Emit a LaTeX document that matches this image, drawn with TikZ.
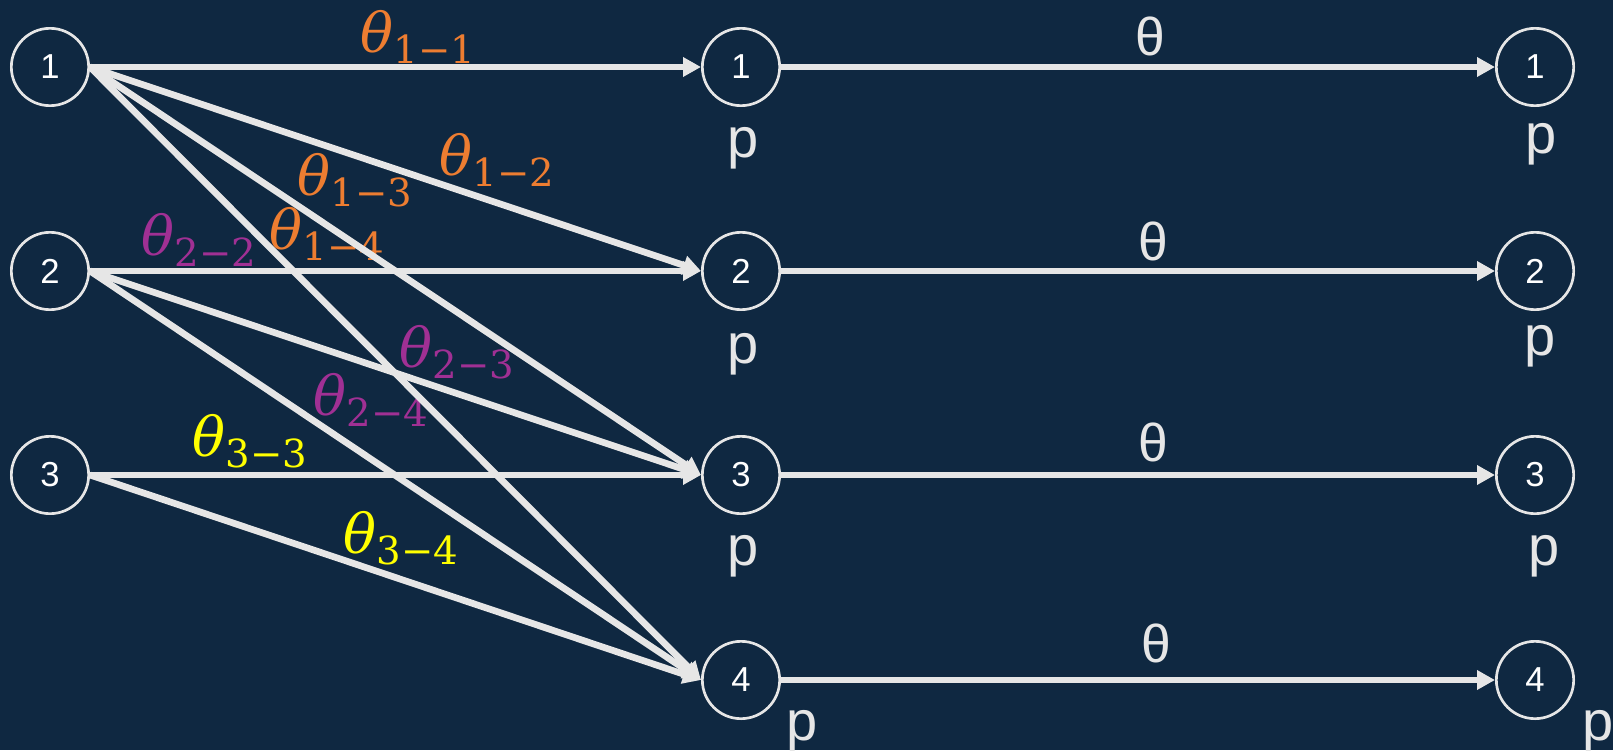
\documentclass[tikz,border=0pt]{standalone}
\usepackage{fontspec}
\setmainfont{Liberation Sans}
\newfontfamily\wfont{DejaVu Serif}
\usetikzlibrary{arrows.meta}

\definecolor{bgnavy}{HTML}{0F2841}
\definecolor{edgegray}{HTML}{E6E6E6}
\definecolor{laborange}{HTML}{ED7D31}
\definecolor{labpurple}{HTML}{A03094}
\definecolor{labyellow}{HTML}{FFFF00}

% weight label: italic theta with an upright lowered index
\newcommand{\wgt}[2]{{\wfont\fontsize{41}{41}\selectfont\itshape θ}%
  \raisebox{-8pt}{\wfont\fontsize{29}{29}\selectfont #1−#2}}

\begin{document}
\begin{tikzpicture}[x=0.75pt,y=-0.75pt,
  state/.style={circle, draw=edgegray, line width=2pt, inner sep=0pt,
    minimum size=58pt, text=white, font=\fontsize{26}{26}\selectfont},
  flow/.style={draw=edgegray, line width=5pt,
    -{Triangle[length=13.5pt,width=14pt]}},
  plabel/.style={anchor=base, inner sep=0pt, text=edgegray,
    font=\fontsize{42}{42}\selectfont},
  tlabel/.style={inner sep=0pt, text=edgegray,
    font=\fontsize{40}{40}\selectfont},
  wlabel/.style={inner sep=0pt},
]
% canvas
\fill[bgnavy] (0,0) rectangle (1613,750);
\useasboundingbox (0,0) rectangle (1613,750);

% source, middle and target states
\foreach \i/\y in {1/67,2/271,3/475} {
  \node[state] (L\i) at (50,\y) {\i};
}
\foreach \i/\y in {1/67,2/271,3/475,4/680} {
  \node[state] (M\i) at (741,\y) {\i};
  \node[state] (R\i) at (1535,\y) {\i};
}

% weight labels on the transfer edges
\node[wlabel, text=laborange]  (w11) at (418,37)  {\wgt{1}{1}};
\node[wlabel, text=laborange]  (w12) at (497,160) {\wgt{1}{2}};
\node[wlabel, text=laborange]  (w13) at (355,180) {\wgt{1}{3}};
\node[wlabel, text=laborange]  (w14) at (327,234) {\wgt{1}{4}};
\node[wlabel, text=labpurple]  (w22) at (199,240) {\wgt{2}{2}};
\node[wlabel, text=labpurple]  (w23) at (457,352) {\wgt{2}{3}};
\node[wlabel, text=labpurple]  (w24) at (371,400) {\wgt{2}{4}};
\node[wlabel, text=labyellow]  (w33) at (250,441) {\wgt{3}{3}};
\node[wlabel, text=labyellow]  (w34) at (401,538) {\wgt{3}{4}};

% labels on the forward edges
\node[tlabel] (t1) at (1150,36)  {θ};
\node[tlabel] (t2) at (1153,241) {θ};
\node[tlabel] (t3) at (1153,442) {θ};
\node[tlabel] (t4) at (1156,643) {θ};

% p labels below the states
\node[plabel] (pm1) at (743,157) {p};
\node[plabel] (pm2) at (743,363) {p};
\node[plabel] (pm3) at (743,565) {p};
\node[plabel] (pm4) at (802,740) {p};
\node[plabel] (pr1) at (1541,153) {p};
\node[plabel] (pr2) at (1540,355) {p};
\node[plabel] (pr3) at (1544,565) {p};
\node[plabel] (pr4) at (1598,740) {p};

% transfer edges
\foreach \a/\b in {1/1,1/2,1/3,1/4,2/2,2/3,2/4,3/3,3/4} {
  \draw[flow] (L\a.east) -- (M\b.west);
}
% forward edges
\foreach \i in {1,2,3,4} {
  \draw[flow] (M\i.east) -- (R\i.west);
}
\end{tikzpicture}
\end{document}
